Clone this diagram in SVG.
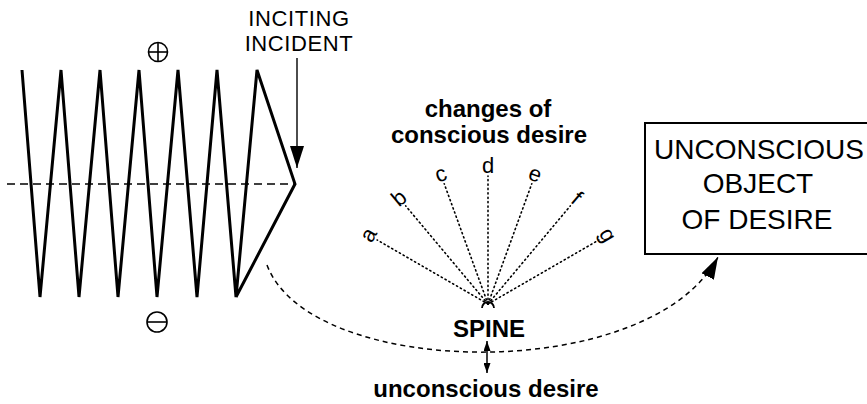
<svg xmlns="http://www.w3.org/2000/svg" width="867" height="404" viewBox="0 0 867 404">
<style>
  .t { font-family: "Liberation Sans", Arial, sans-serif; fill: #000; }
  .b { font-weight: bold; font-size: 24px; text-anchor: middle; }
  .cap { font-size: 22px; letter-spacing: 0.6px; text-anchor: middle; }
  .box { font-size: 28px; text-anchor: middle; }
  .let { font-size: 22px; text-anchor: middle; }
  .dot { stroke: #000; stroke-width: 1.6; stroke-dasharray: 1.2 3.2; stroke-linecap: round; fill: none; }
  .dash { stroke: #000; stroke-width: 1.5; fill: none; }
</style>
<defs>
  <marker id="bigHead" viewBox="0 0 22 14" refX="22" refY="7" markerWidth="22" markerHeight="14" markerUnits="userSpaceOnUse" orient="auto">
    <path d="M0,0 L22,7 L0,14 Z" fill="#000"/>
  </marker>
  <marker id="smallHead" viewBox="0 0 10 7" refX="10" refY="3.5" markerWidth="10" markerHeight="7" markerUnits="userSpaceOnUse" orient="auto-start-reverse">
    <path d="M0,0 L10,3.5 L0,7 Z" fill="#000"/>
  </marker>
</defs>
<rect width="867" height="404" fill="#fff"/>

<g id="zigzag">
  <line x1="7" y1="184" x2="295" y2="184" class="dash" stroke-dasharray="8 5"/>
  <path d="M22,70 L40,297 L61,70 L79,297 L100,70 L118,297 L139,70 L157,297 L178,70 L197,297 L217,70 L236,297 L257,70 L295,184 L236,297" fill="none" stroke="#000" stroke-width="3" stroke-linejoin="miter"/>
</g>

<g id="plus">
  <circle cx="158" cy="52" r="9.5" fill="none" stroke="#000" stroke-width="1.6"/>
  <line x1="148.5" y1="52" x2="167.5" y2="52" stroke="#000" stroke-width="1.6"/>
  <line x1="158" y1="42.5" x2="158" y2="61.5" stroke="#000" stroke-width="1.6"/>
</g>

<g id="minus">
  <circle cx="157" cy="322" r="10" fill="none" stroke="#000" stroke-width="1.6"/>
  <line x1="147" y1="322" x2="167" y2="322" stroke="#000" stroke-width="1.6"/>
</g>

<g id="inciting-incident">
  <text class="t cap" x="299" y="26">INCITING</text>
  <text class="t cap" x="299" y="51">INCIDENT</text>
</g>

<g id="changes">
  <text class="t b" x="488" y="117">changes of</text>
  <text class="t b" x="489" y="143">conscious desire</text>
</g>

<g id="fan">
  <g class="dot">
    <line x1="488" y1="304" x2="488" y2="176" transform="rotate(-60 488 304)"/>
    <line x1="488" y1="304" x2="488" y2="176" transform="rotate(-40 488 304)"/>
    <line x1="488" y1="304" x2="488" y2="176" transform="rotate(-20 488 304)"/>
    <line x1="488" y1="304" x2="488" y2="176"/>
    <line x1="488" y1="304" x2="488" y2="176" transform="rotate(20 488 304)"/>
    <line x1="488" y1="304" x2="488" y2="176" transform="rotate(40 488 304)"/>
    <line x1="488" y1="304" x2="488" y2="176" transform="rotate(60 488 304)"/>
  </g>
  <path d="M482,308 A6,6 0 0 1 494,308" fill="none" stroke="#000" stroke-width="1.8"/>
  <text class="t let" x="488" y="173" transform="rotate(-60 488 304)">a</text>
  <text class="t let" x="488" y="173" transform="rotate(-40 488 304)">b</text>
  <text class="t let" x="488" y="173" transform="rotate(-20 488 304)">c</text>
  <text class="t let" x="488" y="173">d</text>
  <text class="t let" x="488" y="173" transform="rotate(20 488 304)">e</text>
  <text class="t let" x="488" y="173" transform="rotate(40 488 304)">f</text>
  <text class="t let" x="488" y="173" transform="rotate(60 488 304)">g</text>
</g>

<g id="spine">
  <text class="t b" x="489" y="337">SPINE</text>
</g>

<g id="unconscious-desire">
  <text class="t b" x="486" y="397">unconscious desire</text>
</g>

<g id="object">
  <rect x="645" y="123" width="240" height="131" fill="none" stroke="#000" stroke-width="2"/>
  <text class="t box" x="759" y="159">UNCONSCIOUS</text>
  <text class="t box" x="758" y="193">OBJECT</text>
  <text class="t box" x="757" y="229">OF DESIRE</text>
</g>

<g id="connectors">
  <line x1="297" y1="58" x2="297" y2="168" stroke="#000" stroke-width="1.4" marker-end="url(#bigHead)"/>
  <path d="M267,265 C310,380 650,385 718,257" class="dash" stroke-dasharray="5 4" marker-end="url(#bigHead)"/>
  <line x1="487" y1="341" x2="487" y2="373" stroke="#000" stroke-width="1.5" marker-start="url(#smallHead)" marker-end="url(#smallHead)"/>
</g>
</svg>
